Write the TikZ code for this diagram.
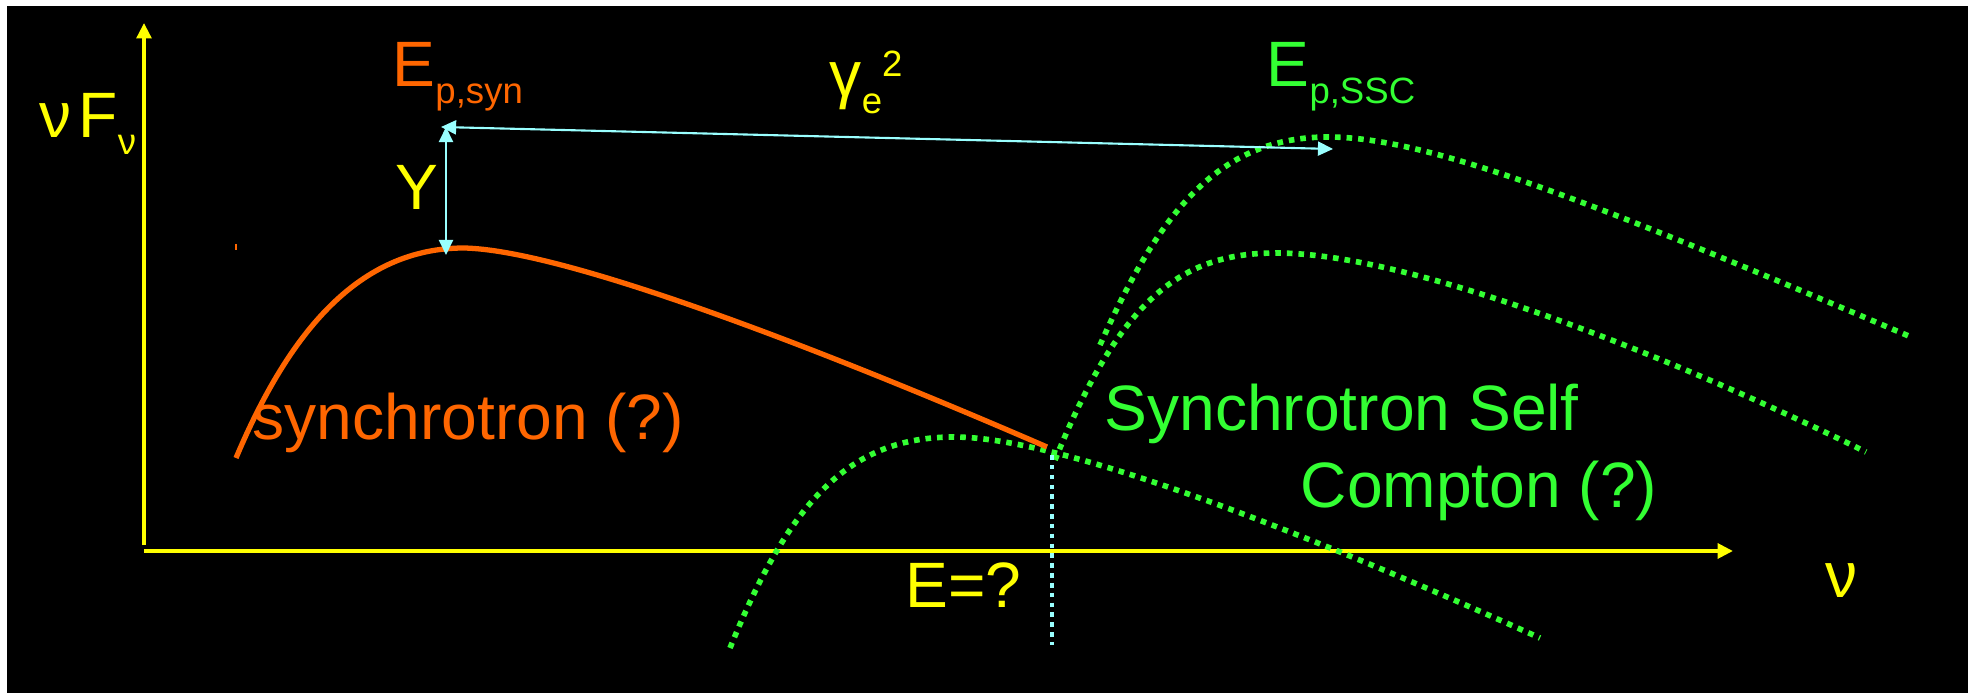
\documentclass[tikz,border=0pt]{standalone}
\usepackage{fontspec}
\setmainfont{Liberation Sans}
\usetikzlibrary{arrows.meta}
\definecolor{synorange}{HTML}{FF6600}
\definecolor{sscgreen}{HTML}{33FF33}
\definecolor{axisyellow}{HTML}{FFFF00}
\definecolor{markcyan}{HTML}{99FFFF}
\newcommand{\lowsub}[1]{\raisebox{-4.8pt}{\fontsize{10.4pt}{12pt}\selectfont #1}}
\newcommand{\highsup}[1]{\raisebox{5.7pt}{\fontsize{10.4pt}{12pt}\selectfont #1}}
\begin{document}
\begin{tikzpicture}[
    x=0.1mm, y=-0.1mm,
    lbl/.style={inner sep=0pt, anchor=base west, font=\fontsize{18.25pt}{20pt}\selectfont},
    axis/.style={axisyellow, -{Triangle[length=4.4pt, width=4.2pt]}},
    syncurve/.style={synorange, line width=1.5pt},
    ssccurve/.style={sscgreen, line width=1.6pt, dash pattern=on 1.6pt off 1.7pt},
    gain/.style={markcyan, line width=0.6pt, {Triangle[length=4.3pt, width=4pt]}-{Triangle[length=4.3pt, width=4pt]}}
    ]

    \useasboundingbox (0,0) rectangle (1968,693);
    \fill[white] (0,0) rectangle (1968,693);
    \fill[black] (7,6) rectangle (1968,693);

    \coordinate (yfoot) at (144,545);
    \coordinate (ytip) at (144,23);
    \coordinate (xfoot) at (144,551);
    \coordinate (xtip) at (1733,551);
    \coordinate (synpk) at (446,255);
    \coordinate (synup) at (446,127);
    \coordinate (gamL) at (441,127);
    \coordinate (sscpk) at (1333,149);
    \coordinate (cross) at (1052,455);
    \coordinate (crossdn) at (1052,645);

    \draw[axis, line width=1pt] (yfoot) -- (ytip);
    \draw[axis, line width=1.3pt] (xfoot) -- (xtip);

    \draw[ssccurve] (730,648) .. controls (790,500) and (850,437) .. (954,437)
        .. controls (1060,437) and (1300,530) .. (1540,638);
    \draw[ssccurve] (1055,460) .. controls (1120,300) and (1180,253) .. (1276,253)
        .. controls (1420,253) and (1700,370) .. (1866,452);
    \draw[ssccurve] (1100,345) .. controls (1160,210) and (1220,137) .. (1328,137)
        .. controls (1430,137) and (1600,205) .. (1911,337);

    \draw[syncurve] (236,458) .. controls (290,330) and (360,248) .. (464,248)
        .. controls (560,250) and (800,340) .. (1047,447);
    \draw[synorange, line width=0.6pt] (236,244) -- (236,250);

    \draw[gain] (synup) -- (synpk);
    \draw[gain] (gamL) -- (sscpk);
    \draw[markcyan, line width=1.3pt, dash pattern=on 1.3pt off 1.5pt] (cross) -- (crossdn);

    \node[lbl, axisyellow] (nuFnu) at (39,138) {ν\hspace{2pt}F\lowsub{ν}};
    \node[lbl, synorange] (Epsyn) at (392,87) {E\lowsub{p,syn}};
    \node[lbl, sscgreen] (Epssc) at (1266,87) {E\lowsub{p,SSC}};
    \node[lbl, axisyellow] (gam) at (829,97) {γ\lowsub{e}\highsup{2}};
    \node[lbl, axisyellow] (Yfac) at (395,210) {Y};
    \node[lbl, synorange] (synlbl) at (252,440) {synchrotron (?)};
    \node[lbl, sscgreen] (ssclbl1) at (1104,431) {Synchrotron Self};
    \node[lbl, sscgreen] (ssclbl2) at (1300,507) {Compton (?)};
    \node[lbl, axisyellow] (Eq) at (905,607) {E=?};
    \node[lbl, axisyellow] (nu) at (1825,597) {ν};

\end{tikzpicture}
\end{document}
